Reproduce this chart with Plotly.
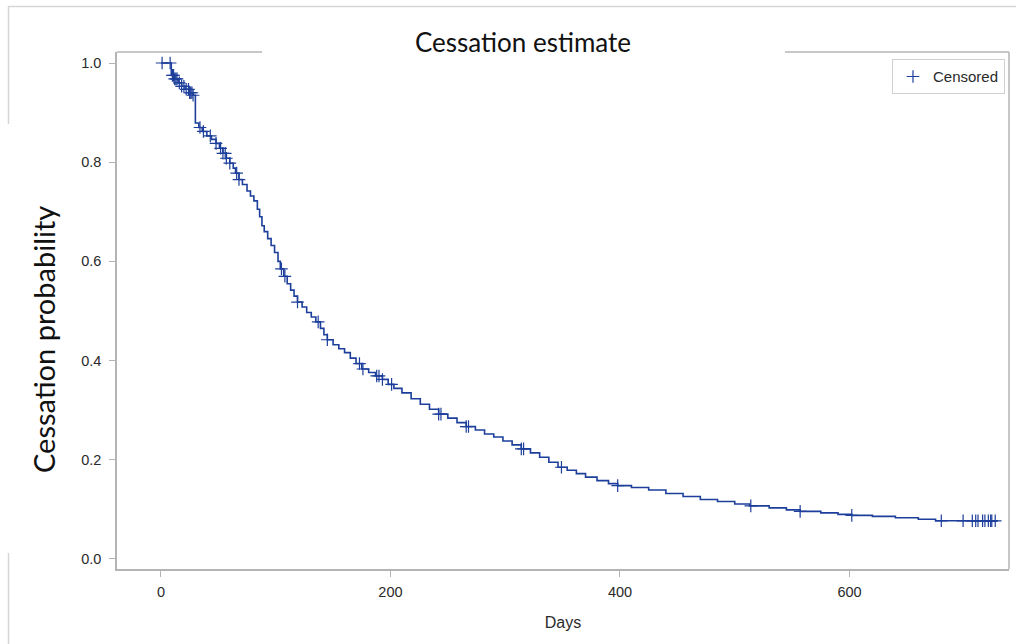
import plotly.graph_objects as go

# Kaplan-Meier step curve: day of each step and the estimate after it
step_days = [0, 9, 12, 15, 18, 21, 25, 28, 30, 33, 36, 40, 44, 48, 51, 54, 57, 60, 63, 65,
             68, 71, 75, 78, 81, 84, 86, 88, 90, 93, 96, 99, 102, 104, 107, 110, 113, 116,
             119, 123, 127, 131, 135, 139, 142, 145, 150, 155, 160, 165, 170, 175, 181, 187,
             193, 198, 203, 210, 218, 226, 234, 242, 250, 258, 266, 274, 282, 290, 298, 306,
             314, 322, 330, 338, 346, 354, 362, 370, 380, 390, 398, 410, 425, 440, 455, 470,
             485, 500, 513, 530, 545, 557, 575, 590, 602, 620, 640, 660, 675, 729]
step_surv = [1.000, 0.975, 0.968, 0.960, 0.953, 0.947, 0.940, 0.935, 0.879, 0.870, 0.862,
             0.853, 0.846, 0.838, 0.828, 0.818, 0.808, 0.798, 0.788, 0.778, 0.765, 0.755,
             0.742, 0.732, 0.722, 0.705, 0.690, 0.672, 0.660, 0.646, 0.632, 0.618, 0.600,
             0.585, 0.570, 0.555, 0.542, 0.530, 0.518, 0.508, 0.497, 0.488, 0.478, 0.465,
             0.452, 0.442, 0.432, 0.424, 0.416, 0.405, 0.394, 0.383, 0.376, 0.369, 0.362,
             0.352, 0.344, 0.335, 0.323, 0.312, 0.302, 0.292, 0.284, 0.275, 0.267, 0.260,
             0.252, 0.246, 0.238, 0.230, 0.222, 0.214, 0.205, 0.195, 0.185, 0.179, 0.172,
             0.165, 0.158, 0.152, 0.148, 0.144, 0.139, 0.132, 0.126, 0.120, 0.116, 0.111,
             0.107, 0.103, 0.099, 0.096, 0.093, 0.090, 0.088, 0.086, 0.083, 0.080, 0.077,
             0.077]

# Days at which subjects were censored
censor_days = [1, 8, 10, 11, 12, 13, 14, 16, 18, 20, 22, 24, 25, 26, 27, 28, 34, 37, 43, 48,
               52, 54, 56, 57, 60, 66, 68, 105, 108, 119, 137, 145, 173, 176, 188, 190, 193,
               201, 242, 244, 266, 268, 314, 316, 349, 398, 514, 557, 602, 680, 699, 707,
               710, 712, 716, 718, 721, 723, 724, 727]

x_ticks = [0, 200, 400, 600]
y_ticks = [0.0, 0.2, 0.4, 0.6, 0.8, 1.0]
y_tick_text = ["0.0", "0.2", "0.4", "0.6", "0.8", "1.0"]


def surv_at(day):
    """Value of the step function at a given day."""
    val = step_surv[0]
    for d, s in zip(step_days, step_surv):
        if d <= day:
            val = s
        else:
            break
    return val


censor_surv = [surv_at(d) for d in censor_days]

BLUE = "#1d3f9b"
FRAME = "#b4b4b4"
TICK_FONT = dict(family="Liberation Sans", size=14.5, color="#2a2a2a")

fig = go.Figure()
fig.add_trace(go.Scatter(
    x=step_days, y=step_surv, mode="lines", line=dict(color=BLUE, width=1.6, shape="hv"),
    showlegend=False, hoverinfo="skip"))
fig.add_trace(go.Scatter(
    x=censor_days, y=censor_surv, mode="markers", name="Censored",
    marker=dict(symbol="cross-thin", size=9, line=dict(color=BLUE, width=1.2), color=BLUE)))

# Plot area in pixels: x 117..1009, y 52..569
W, H = 1016, 644
L, R, T, B = 117, 1009, 52, 569


def px(xp):
    return (xp - L) / (R - L)


def py(yp):
    return (B - yp) / (B - T)


line_style = dict(color=FRAME, width=1.5)
outer_style = dict(color="#d6d6d6", width=1.5)
shapes = [
    # plot frame: right side and top segments around the title
    dict(type="line", xref="paper", yref="paper", x0=1, x1=1, y0=0, y1=1, line=line_style),
    dict(type="line", xref="paper", yref="paper", x0=0, x1=px(262), y0=1, y1=1, line=line_style),
    dict(type="line", xref="paper", yref="paper", x0=px(785), x1=1, y0=1, y1=1, line=line_style),
    # outer border
    dict(type="line", xref="paper", yref="paper", x0=px(8), x1=px(1016), y0=py(6.5), y1=py(6.5),
         line=outer_style),
    dict(type="line", xref="paper", yref="paper", x0=px(8.5), x1=px(8.5), y0=py(6), y1=py(124),
         line=outer_style),
    dict(type="line", xref="paper", yref="paper", x0=px(8.5), x1=px(8.5), y0=py(553), y1=py(644),
         line=outer_style),
]

annotations = [
    dict(text="Cessation probability", xref="paper", yref="paper", x=px(43), y=py(340),
         xanchor="center", yanchor="middle", textangle=-90, showarrow=False,
         font=dict(family="Lato", size=29, color="#111111")),
]

fig.update_layout(
    width=W, height=H,
    margin=dict(l=L, r=W - R, t=T, b=H - B),
    paper_bgcolor="white", plot_bgcolor="white",
    shapes=shapes,
    annotations=annotations,
    title=dict(text="Cessation estimate", x=523 / W, xanchor="center",
               y=1 - 43 / H, yanchor="middle",
               font=dict(family="Lato", size=26, color="#111111")),
    xaxis=dict(range=[-38.3, 739], tickvals=x_ticks, showgrid=False, zeroline=False,
               showline=True, linecolor=FRAME, linewidth=1.5,
               ticks="outside", ticklen=6, tickcolor=FRAME, ticklabelstandoff=3,
               tickfont=TICK_FONT,
               title=dict(text="Days", standoff=18,
                          font=dict(family="Liberation Sans", size=16, color="#2a2a2a"))),
    yaxis=dict(range=[-0.0202, 1.0222], tickvals=y_ticks, ticktext=y_tick_text,
               showgrid=False, zeroline=False,
               showline=True, linecolor=FRAME, linewidth=1.5,
               ticks="outside", ticklen=6, tickcolor=FRAME, ticklabelstandoff=5,
               tickfont=TICK_FONT),
    legend=dict(x=0.9955, xanchor="right", y=0.986, yanchor="top",
                bordercolor="#d0d0d0", borderwidth=1, bgcolor="white",
                font=dict(family="Liberation Sans", size=15, color="#2a2a2a"),
                itemwidth=30, tracegroupgap=0),
)

fig.write_html("out.html")
